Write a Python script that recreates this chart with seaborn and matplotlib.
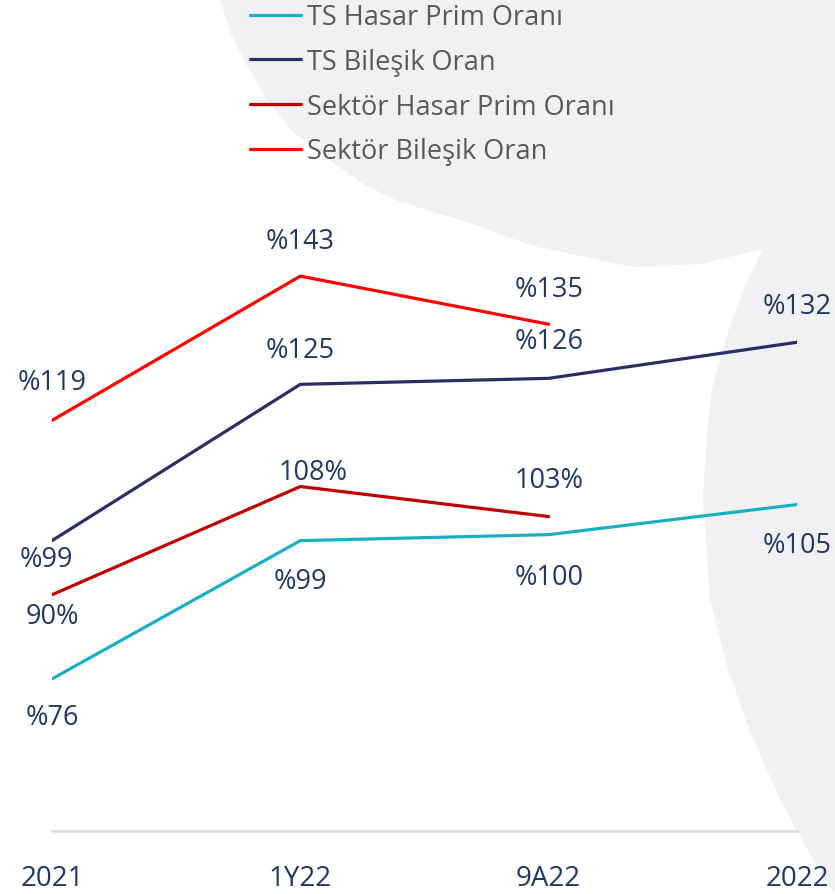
import numpy as np
import pandas as pd
import matplotlib
matplotlib.use("Agg")
import matplotlib.pyplot as plt
from matplotlib.path import Path
from matplotlib.patches import PathPatch
from matplotlib.transforms import Affine2D
import seaborn as sns

# chart data
periods = ["2021", "1Y22", "9A22", "2022"]
series_names = ["TS Hasar Prim Oranı", "TS Bileşik Oran",
                "Sektör Hasar Prim Oranı", "Sektör Bileşik Oran"]
ts_hasar = [76, 99, 100, 105]
ts_bilesik = [99, 125, 126, 132]
sektor_hasar = [90, 108, 103, np.nan]
sektor_bilesik = [119, 143, 135, np.nan]

# label texts as printed on the slide
ts_hasar_labels = ["%76", "%99", "%100", "%105"]
ts_bilesik_labels = ["%99", "%125", "%126", "%132"]
sektor_hasar_labels = ["90%", "108%", "103%", None]
sektor_bilesik_labels = ["%119", "%143", "%135", None]

colors = ["#1aafc0", "#2b2e63", "#c00000", "#ff0000"]
label_color = "#1f3864"

# label offsets in pixels (dx, dy)
offsets = [
    [(0, -38), (0, -40), (0, -42), (0, -40)],
    [(-6, -18), (0, 34), (0, 37), (0, 36)],
    [(0, -21), (13, 15), (0, 37), None],
    [(0, 38), (0, 35), (0, 35), None],
]

W, H = 835, 895
sns.set_style("white")
plt.rcParams["font.family"] = ["Open Sans", "DejaVu Sans"]

fig = plt.figure(figsize=(W / 100, H / 100), dpi=100)

# faint watermark swoosh behind the chart (pixel coords, y down)
pts = [(220, 0), (835, 0), (835, 895), (833, 893), (807, 850), (780, 800),
       (750, 733), (727, 667), (710, 600), (703, 500), (707, 433),
       (712, 390), (723, 350), (733, 317), (747, 283), (763, 250),
       (700, 265), (633, 268), (533, 247), (467, 223), (400, 203),
       (367, 187), (327, 160), (293, 133), (267, 100), (247, 67),
       (230, 33), (220, 0)]
to_fig = Affine2D().scale(1 / W, -1 / H).translate(0, 1) + fig.transFigure
bg = PathPatch(Path(pts), facecolor="#f1f1f3", edgecolor="none",
               transform=to_fig, zorder=-5)
fig.patches.append(bg)

ax = fig.add_axes([52 / W, (H - 832) / H, 745 / W, 832 / H])
ax.patch.set_alpha(0)
ax.set_zorder(2)

df = pd.DataFrame({
    "x": list(range(len(periods))) * 4,
    "value": ts_hasar + ts_bilesik + sektor_hasar + sektor_bilesik,
    "series": np.repeat(series_names, len(periods)),
})

sns.lineplot(data=df, x="x", y="value", hue="series", hue_order=series_names,
             palette=colors, linewidth=2.3, ax=ax, legend=False)

all_vals = [ts_hasar, ts_bilesik, sektor_hasar, sektor_bilesik]
all_labels = [ts_hasar_labels, ts_bilesik_labels, sektor_hasar_labels,
              sektor_bilesik_labels]
for vals, labs, offs in zip(all_vals, all_labels, offsets):
    for i, (v, lab) in enumerate(zip(vals, labs)):
        if lab is None:
            continue
        ax.annotate(lab, (i, v), xytext=offs[i], textcoords="offset pixels",
                    ha="center", va="center", fontsize=19.5, color=label_color,
                    annotation_clip=False)

ax.set_xlim(0, 3)
ax.set_ylim(50.7, 189.1)
ax.set_xticks(range(len(periods)))
ax.set_xticklabels(periods, fontsize=20, color=label_color)
ax.tick_params(axis="x", length=0, pad=24)
ax.set_yticks([])
ax.set_xlabel("")
ax.set_ylabel("")
for s in ["left", "top", "right"]:
    ax.spines[s].set_visible(False)
ax.spines["bottom"].set_color("#d9d9d9")
ax.spines["bottom"].set_linewidth(1.8)

handles = [plt.Line2D([], [], color=c, linewidth=2.3) for c in colors]
leg = fig.legend(handles, series_names, loc="upper left",
                 bbox_to_anchor=(250 / W, 1 - 4 / H), frameon=False,
                 fontsize=19.5, handlelength=1.9, handletextpad=0.22,
                 labelspacing=0.62, borderpad=0, borderaxespad=0)
leg.set_zorder(3)
for t in leg.get_texts():
    t.set_color("#595959")

fig.savefig("out.png", dpi=100)
